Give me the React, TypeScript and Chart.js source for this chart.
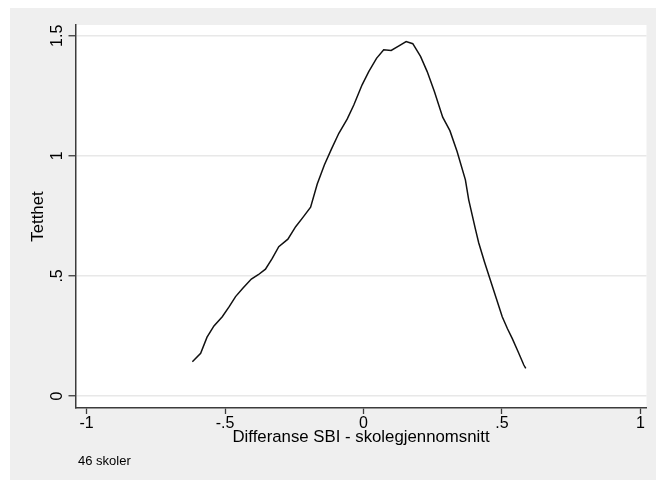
import React, { useEffect, useRef } from "react";
import { Chart, registerables } from "chart.js";

Chart.register(...registerables);

// Kernel density estimate (x = difference, y = density)
const densX = [
  -0.618, -0.588, -0.565, -0.54, -0.51, -0.485, -0.462, -0.435, -0.405, -0.38,
  -0.354, -0.33, -0.306, -0.273, -0.245, -0.218, -0.191, -0.167, -0.141, -0.115,
  -0.089, -0.059, -0.035, -0.005, 0.019, 0.047, 0.073, 0.1, 0.128, 0.154,
  0.178, 0.206, 0.23, 0.256, 0.286, 0.312, 0.338, 0.368, 0.38, 0.404,
  0.416, 0.437, 0.458, 0.48, 0.501, 0.52, 0.537, 0.558, 0.579, 0.586,
];
const densY = [
  0.143, 0.178, 0.245, 0.292, 0.33, 0.372, 0.414, 0.45, 0.487, 0.505,
  0.528, 0.572, 0.622, 0.653, 0.705, 0.745, 0.786, 0.883, 0.963, 1.03,
  1.094, 1.153, 1.212, 1.296, 1.351, 1.406, 1.442, 1.439, 1.458, 1.476,
  1.467, 1.414, 1.351, 1.268, 1.161, 1.105, 1.018, 0.9, 0.817, 0.696,
  0.638, 0.558, 0.483, 0.405, 0.33, 0.28, 0.24, 0.185, 0.129, 0.115,
];

const xTickValues = [-1, -0.5, 0, 0.5, 1];
const xTickLabels = ["-1", "-.5", "0", ".5", "1"];
const yTickValues = [0, 0.5, 1, 1.5];
const yTickLabels = ["0", ".5", "1", "1.5"];

const xTitle = "Differanse SBI - skolegjennomsnitt";
const yTitle = "Tetthet";
const noteText = "46 skoler";

const FONT = "'Liberation Sans', Arial, Helvetica, sans-serif";
const AXIS_COLOR = "#3c3c3c";

export default function App() {
  const canvasRef = useRef<HTMLCanvasElement | null>(null);

  useEffect(() => {
    const canvas = canvasRef.current;
    if (!canvas) return;

    const bgPlugin = {
      id: "stataBg",
      beforeDraw(chart: any) {
        const { ctx, chartArea: a, width, height } = chart;
        ctx.save();
        ctx.fillStyle = "#ffffff";
        ctx.fillRect(0, 0, width, height);
        ctx.fillStyle = "#efefef";
        ctx.fillRect(10, 8, width - 10, height - 10);
        ctx.fillStyle = "#ffffff";
        ctx.fillRect(a.left, a.top, a.right - a.left, a.bottom - a.top);
        ctx.restore();
      },
      afterDraw(chart: any) {
        const { ctx } = chart;
        ctx.save();
        ctx.fillStyle = "#000000";
        ctx.font = `13px ${FONT}`;
        ctx.textAlign = "left";
        ctx.textBaseline = "alphabetic";
        ctx.fillText(noteText, 78, 465);
        ctx.restore();
      },
    };

    const chart = new Chart(canvas, {
      type: "line",
      data: {
        datasets: [
          {
            data: densX.map((x, i) => ({ x, y: densY[i] })),
            borderColor: "#111111",
            borderWidth: 1.5,
            pointRadius: 0,
            tension: 0,
            fill: false,
          },
        ],
      },
      options: {
        responsive: false,
        animation: false,
        devicePixelRatio: 1,
        layout: { padding: { left: 0, right: 9.5, top: 25, bottom: 29 } },
        plugins: {
          legend: { display: false },
          tooltip: { enabled: false },
        },
        scales: {
          x: {
            type: "linear",
            min: -1.04,
            max: 1.022,
            afterBuildTicks: (s: any) => {
              s.ticks = xTickValues.map((v) => ({ value: v }));
            },
            afterFit: (s: any) => {
              s.height = 45;
            },
            ticks: {
              autoSkip: false,
              maxRotation: 0,
              minRotation: 0,
              padding: 0,
              color: "#000000",
              font: { family: FONT, size: 16 },
              callback: (v: any) => {
                const i = xTickValues.indexOf(Number(v));
                return i >= 0 ? xTickLabels[i] : "";
              },
            },
            grid: {
              drawOnChartArea: false,
              drawTicks: true,
              tickLength: 6,
              tickColor: AXIS_COLOR,
              tickWidth: 1.3,
            },
            border: { display: true, color: AXIS_COLOR, width: 1.5 },
            title: {
              display: true,
              text: xTitle,
              color: "#000000",
              font: { family: FONT, size: 16.8 },
              padding: { top: 0, bottom: 6 },
            },
          },
          y: {
            type: "linear",
            min: -0.05,
            max: 1.545,
            afterBuildTicks: (s: any) => {
              s.ticks = yTickValues.map((v) => ({ value: v }));
            },
            afterFit: (s: any) => {
              s.width = 75.5;
            },
            ticks: {
              autoSkip: false,
              minRotation: 90,
              maxRotation: 90,
              crossAlign: "center",
              padding: 0,
              color: "#000000",
              font: { family: FONT, size: 16 },
              callback: (v: any) => {
                const i = yTickValues.indexOf(Number(v));
                return i >= 0 ? yTickLabels[i] : "";
              },
            },
            grid: {
              color: "#e8e8e8",
              lineWidth: 1.5,
              drawTicks: true,
              tickLength: 7,
              tickColor: AXIS_COLOR,
              tickWidth: 1.3,
            },
            border: { display: true, color: AXIS_COLOR, width: 1.5 },
            title: {
              display: true,
              text: yTitle,
              color: "#000000",
              font: { family: FONT, size: 16.8 },
              padding: { top: 28, bottom: 0 },
            },
          },
        },
      },
      plugins: [bgPlugin],
    } as any);

    return () => {
      chart.destroy();
    };
  }, []);

  return (
    <div style={{ position: "fixed", left: 0, top: 0, width: 656, height: 482, background: "#ffffff" }}>
      <canvas ref={canvasRef} width={656} height={482} style={{ display: "block", width: 656, height: 482 }} />
    </div>
  );
}
